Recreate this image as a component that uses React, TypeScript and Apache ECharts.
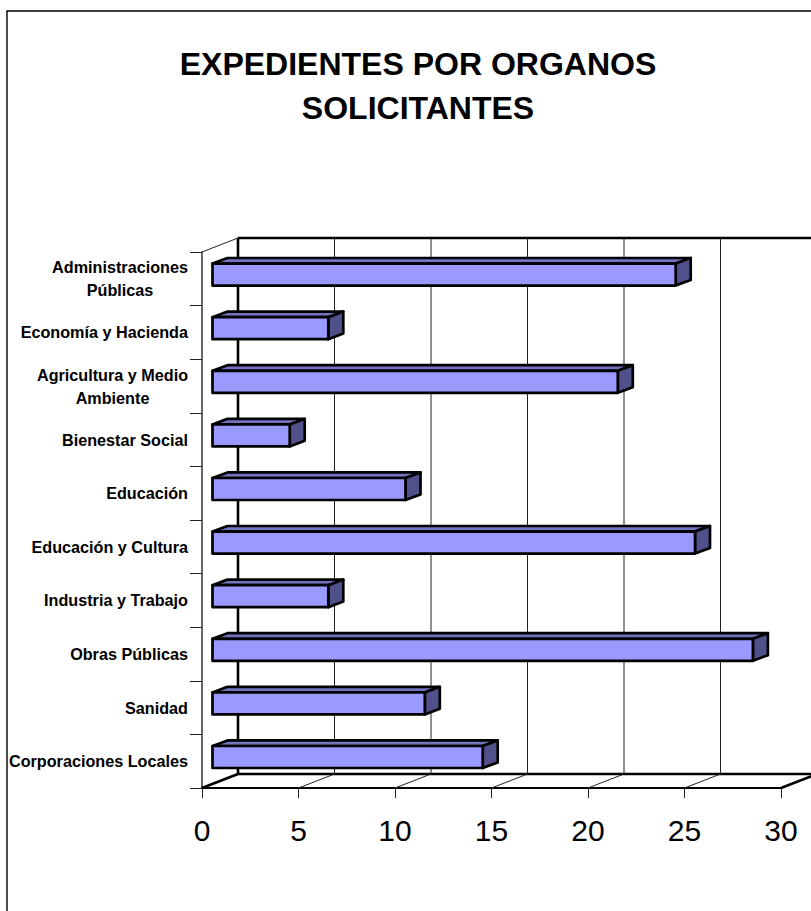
import React, { useEffect, useRef } from "react";
import * as echarts from "echarts";

const titleText = "EXPEDIENTES POR ORGANOS\nSOLICITANTES";
const categories = [
  "Administraciones\nPúblicas",
  "Economía y Hacienda",
  "Agricultura y Medio\nAmbiente",
  "Bienestar Social",
  "Educación",
  "Educación y Cultura",
  "Industria y Trabajo",
  "Obras Públicas",
  "Sanidad",
  "Corporaciones Locales",
];
const values = [24, 6, 21, 4, 10, 25, 6, 28, 11, 14];
const xTicks = [0, 5, 10, 15, 20, 25, 30];

const FONT = '"Liberation Sans", Arial, sans-serif';
const DX = 36, DY = -14;          // wall depth
const BAR_OFF_X = 10.5, BAR_OFF_Y = -4.2;
const BAR_DX = 15, BAR_DY = -5.6;
const BAR_H = 22;

export default function App() {
  const ref = useRef<HTMLDivElement>(null);
  useEffect(() => {
    document.body.style.margin = "0";
    const chart = echarts.init(ref.current!, undefined, { renderer: "svg" });
    chart.setOption({
      animation: false,
      backgroundColor: "#ffffff",
      title: {
        text: titleText,
        left: 413,
        top: 37,
        textAlign: "center",
        textStyle: { fontFamily: FONT, fontWeight: "bold", fontSize: 32, lineHeight: 44, color: "#000" },
      },
      graphic: [
        {
          type: "rect",
          z: -1,
          shape: { x: 7, y: 11, width: 900, height: 1000 },
          style: { fill: "none", stroke: "#000", lineWidth: 1.4 },
        },
      ],
      grid: { left: 202, top: 252, width: 579, height: 536 },
      xAxis: {
        type: "value",
        min: 0,
        max: 30,
        interval: 5,
        splitLine: { show: false },
        axisLine: { show: true, onZero: false, lineStyle: { color: "#000", width: 2 } },
        axisTick: { show: true, length: 10, lineStyle: { color: "#222", width: 1 } },
        axisLabel: {
          show: true, margin: 27, fontFamily: FONT, fontSize: 30, color: "#000",
          showMinLabel: true, showMaxLabel: true,
          customValues: xTicks,
        },
      },
      yAxis: {
        type: "category",
        inverse: true,
        data: categories,
        axisLine: { show: true, lineStyle: { color: "#333", width: 1.5 } },
        axisTick: { show: true, length: 12, lineStyle: { color: "#222", width: 1 } },
        axisLabel: {
          interval: 0,
          margin: 14,
          fontFamily: FONT,
          fontWeight: "bold",
          fontSize: 16.2,
          color: "#000",
          formatter: (v: string) => {
            if (!v.includes("\n")) return v;
            const key = v.startsWith("Admin") ? "a" : "b";
            return v.split("\n").map((s) => `{${key}|${s}}`).join("\n");
          },
          rich: {
            a: { width: 136, align: "center", fontFamily: FONT, fontWeight: "bold", fontSize: 16.2, lineHeight: 23, color: "#000" },
            b: { width: 151, align: "center", fontFamily: FONT, fontWeight: "bold", fontSize: 16.2, lineHeight: 23, color: "#000" },
          },
        },
      },
      series: [
        {
          type: "custom",
          name: "walls",
          z: 1,
          silent: true,
          encode: { x: 0 },
          data: xTicks.map((t) => [t]),
          renderItem: (params: any, api: any) => {
            const cs = params.coordSys;
            const v = api.value(0);
            const x = api.coord([v, 0])[0];
            const top = cs.y, bot = cs.y + cs.height;
            const bx = x + DX;
            const thin = { stroke: "#222", lineWidth: 1 };
            const thick = { stroke: "#000", lineWidth: 2.6 };
            const edge = v === 0 || v === 30;
            const children: any[] = [
              { type: "line", shape: { x1: bx, y1: top + DY, x2: bx, y2: bot + DY }, style: v === 0 ? thick : thin },
              { type: "line", shape: { x1: x, y1: bot, x2: bx, y2: bot + DY }, style: edge ? thick : thin },
            ];
            if (v === 0) {
              children.push(
                { type: "line", shape: { x1: x, y1: top, x2: bx, y2: top + DY }, style: thin },
                { type: "line", shape: { x1: bx, y1: top + DY, x2: cs.x + cs.width + DX, y2: top + DY }, style: thick },
                { type: "line", shape: { x1: bx, y1: bot + DY, x2: cs.x + cs.width + DX, y2: bot + DY }, style: thick },
              );
            }
            return { type: "group", children };
          },
        },
        {
          type: "custom",
          name: "Expedientes",
          z: 2,
          encode: { x: 0, y: 1 },
          data: values.map((v, i) => [v, i]),
          renderItem: (_: any, api: any) => {
            const p = api.coord([api.value(0), api.value(1)]);
            const o = api.coord([0, api.value(1)]);
            const x0 = o[0] + BAR_OFF_X, x1 = p[0] + BAR_OFF_X;
            const y0 = p[1] + BAR_OFF_Y - BAR_H / 2, y1 = y0 + BAR_H;
            const line = { stroke: "#000", lineWidth: 2.7, lineJoin: "round" };
            return {
              type: "group",
              children: [
                { type: "polygon", shape: { points: [[x0, y0], [x0 + BAR_DX, y0 + BAR_DY], [x1 + BAR_DX, y0 + BAR_DY], [x1, y0]] }, style: { fill: "#7373C0", ...line } },
                { type: "polygon", shape: { points: [[x1, y0], [x1 + BAR_DX, y0 + BAR_DY], [x1 + BAR_DX, y1 + BAR_DY], [x1, y1]] }, style: { fill: "#50508A", ...line } },
                { type: "polygon", shape: { points: [[x0, y0], [x1, y0], [x1, y1], [x0, y1]] }, style: { fill: "#9999FF", ...line } },
              ],
            };
          },
        },
      ],
    });
    return () => chart.dispose();
  }, []);
  return <div ref={ref} style={{ position: "absolute", left: 0, top: 0, width: 811, height: 911 }} />;
}
